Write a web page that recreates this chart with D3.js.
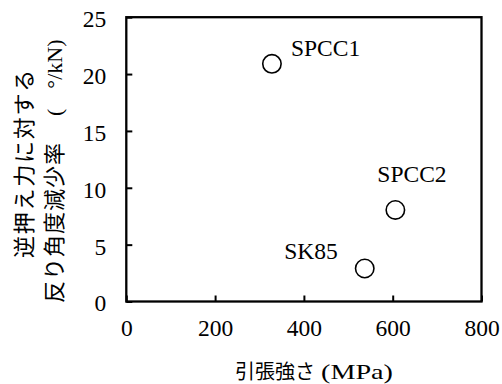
<!DOCTYPE html>
<html>
<head>
<meta charset="utf-8">
<script src="https://cdn.jsdelivr.net/npm/d3@7"></script>
<style>
  html, body { margin: 0; padding: 0; background: #fff; }
  svg { display: block; }
  svg .serif { font-family: "Liberation Serif", "Times New Roman", serif; }
  svg .cjk { font-family: "Noto Sans CJK JP", "Noto Sans", sans-serif; }
</style>
</head>
<body>
<svg id="chart" width="502" height="384"></svg>
<script>
// Materials and their measured values
const materials = ["SPCC1", "SPCC2", "SK85"];
const tensileStrength = [328, 606, 537];      // MPa
const angleReductionRate = [20.9, 8.05, 2.9];  // °/kN

const xTicks = [0, 200, 400, 600, 800];
const yTicks = [0, 5, 10, 15, 20, 25];

// Label placement relative to each point (pixels)
const labelLayout = {
  SPCC1: { dx: 19, dy: -8, anchor: "start" },
  SPCC2: { dx: -18, dy: -28, anchor: "start" },
  SK85:  { dx: -27, dy: -10, anchor: "end" }
};

const NUM_SIZE = "23.5px";

const svg = d3.select("#chart");
const plot = { left: 126.3, right: 481.5, top: 17.2, bottom: 301.5 };

const x = d3.scaleLinear().domain([0, 800]).range([plot.left, plot.right]);
const y = d3.scaleLinear().domain([0, 25]).range([plot.bottom, plot.top]);

// X axis: ticks point inward, labels below
const xAxis = svg.append("g")
  .attr("transform", `translate(0,${plot.bottom})`)
  .call(d3.axisBottom(x).tickValues(xTicks).tickSizeInner(-6).tickSizeOuter(0).tickPadding(18));
xAxis.attr("font-family", null);
xAxis.select(".domain").remove();
xAxis.selectAll("line").attr("stroke", "#000").attr("stroke-width", 2);
xAxis.selectAll("text")
  .attr("class", "serif").style("font-size", NUM_SIZE).attr("fill", "#000")
  .attr("dy", "0.71em");

// Y axis: ticks point inward, labels to the left
const yAxis = svg.append("g")
  .attr("transform", `translate(${plot.left},0)`)
  .call(d3.axisLeft(y).tickValues(yTicks).tickSizeInner(-6).tickSizeOuter(0).tickPadding(20));
yAxis.attr("font-family", null);
yAxis.select(".domain").remove();
yAxis.selectAll("line").attr("stroke", "#000").attr("stroke-width", 2);
yAxis.selectAll("text")
  .attr("class", "serif").style("font-size", NUM_SIZE).attr("fill", "#000")
  .attr("dy", "0.4em");

// Plot frame
svg.append("rect")
  .attr("x", plot.left).attr("y", plot.top)
  .attr("width", plot.right - plot.left).attr("height", plot.bottom - plot.top)
  .attr("fill", "none").attr("stroke", "#000").attr("stroke-width", 2.3);

// Points
const points = materials.map((m, i) => ({ name: m, sx: tensileStrength[i], sy: angleReductionRate[i] }));

svg.append("g").selectAll("circle")
  .data(points).join("circle")
  .attr("cx", d => x(d.sx)).attr("cy", d => y(d.sy))
  .attr("r", 9.2)
  .attr("fill", "#fff").attr("stroke", "#000").attr("stroke-width", 1.6);

svg.append("g").selectAll("text")
  .data(points).join("text")
  .attr("class", "serif")
  .attr("x", d => x(d.sx) + labelLayout[d.name].dx)
  .attr("y", d => y(d.sy) + labelLayout[d.name].dy)
  .attr("text-anchor", d => labelLayout[d.name].anchor)
  .style("font-size", NUM_SIZE).attr("fill", "#000")
  .text(d => d.name);

// X axis title
svg.append("text")
  .attr("class", "cjk")
  .attr("x", 235).attr("y", 379)
  .style("font-size", "20px").attr("fill", "#000")
  .text("引張強さ");
svg.append("text")
  .attr("class", "serif")
  .attr("x", 321).attr("y", 379)
  .attr("textLength", 72).attr("lengthAdjust", "spacingAndGlyphs")
  .style("font-size", "22px").attr("fill", "#000")
  .text("(MPa)");

// Y axis title, two rotated lines read bottom to top
svg.append("text")
  .attr("transform", "translate(32,258) rotate(-90)")
  .attr("class", "cjk").attr("fill", "#000")
  .style("font-size", "22px").style("letter-spacing", "1.75px")
  .text("逆押え力に対する");

const yLine2 = svg.append("text")
  .attr("transform", "translate(62,303) rotate(-90)")
  .attr("fill", "#000");
yLine2.append("tspan").attr("class", "cjk")
  .style("font-size", "22px").style("letter-spacing", "1px")
  .text("反り角度減少率");
yLine2.append("tspan").attr("class", "serif").attr("dx", 26)
  .style("font-size", "22px").text("(");
yLine2.append("tspan").attr("class", "serif").attr("dx", 20)
  .style("font-size", "22px").text("°");
yLine2.append("tspan").attr("class", "serif")
  .style("font-size", "22px").text("/kN)");
</script>
</body>
</html>
